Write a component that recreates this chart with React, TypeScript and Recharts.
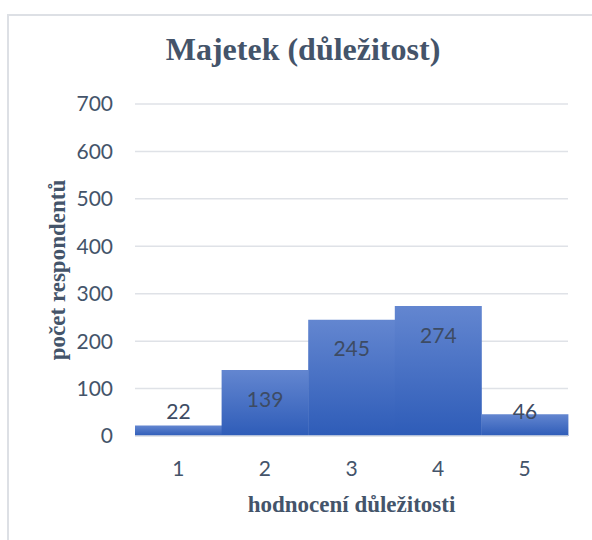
import React from 'react';
import { BarChart, Bar, XAxis, YAxis, CartesianGrid, LabelList } from 'recharts';

// ratings and how many respondents picked each one
const ratings = ['1', '2', '3', '4', '5'];
const respondents = [22, 139, 245, 274, 46];
const yTicks = [0, 100, 200, 300, 400, 500, 600, 700];

const chartTitle = 'Majetek (důležitost)';
const xTitle = 'hodnocení důležitosti';
const yTitle = 'počet respondentů';

const data = ratings.map((r, i) => ({ rating: r, count: respondents[i] }));

const textColor = '#44546a';
const tickFont = 'Lato, "Open Sans", sans-serif';
const serif = '"Liberation Serif", "Times New Roman", serif';

// inside-end label, but kept above the baseline when the bar is too short
const renderValue = (props: any) => {
  const { x, y, width, height, value } = props;
  const bottom = y + height;
  const cy = Math.min(y + 29, bottom - 24);
  return (
    <text
      x={x + width / 2}
      y={cy}
      dy="0.355em"
      textAnchor="middle"
      fontFamily={tickFont}
      fontSize={21}
      fill="#3d4b63"
    >
      {value}
    </text>
  );
};

const App: React.FC = () => {
  return (
    <div style={{ position: 'absolute', left: 0, top: 0, width: 592, height: 540, background: '#fff', overflow: 'hidden' }}>
      <div
        style={{
          position: 'absolute',
          left: 7,
          top: 14,
          width: 620,
          height: 560,
          border: '2px solid #dde0e5',
        }}
      />
      <div
        style={{
          position: 'absolute',
          left: 0,
          top: 30,
          width: 606,
          textAlign: 'center',
          fontFamily: serif,
          fontWeight: 'bold',
          fontSize: 32,
          lineHeight: '38px',
          color: textColor,
        }}
      >
        {chartTitle}
      </div>
      <div style={{ position: 'absolute', left: 0, top: 0 }}>
        <BarChart
          width={592}
          height={540}
          data={data}
          barCategoryGap={0}
          margin={{ top: 104, right: 24, bottom: 24, left: 75 }}
        >
          <defs>
            <linearGradient id="barFill" x1="0" y1="0" x2="0" y2="1">
              <stop offset="0%" stopColor="#6386d0" />
              <stop offset="100%" stopColor="#2e5cb8" />
            </linearGradient>
          </defs>
          <CartesianGrid vertical={false} stroke="#dfe2e7" strokeWidth={1.5} />
          <XAxis
            dataKey="rating"
            height={80}
            axisLine={{ stroke: '#dfe2e7', strokeWidth: 1.5 }}
            tickLine={false}
            tickMargin={19}
            tick={{ fontSize: 21, fill: textColor, fontFamily: tickFont }}
            label={{
              content: (p: any) => {
                const vb = p.viewBox;
                return (
                  <text
                    x={vb.x + vb.width / 2}
                    y={vb.y + 76}
                    textAnchor="middle"
                    fontFamily={serif}
                    fontWeight="bold"
                    fontSize={23}
                    fill={textColor}
                  >
                    {xTitle}
                  </text>
                );
              },
            }}
          />
          <YAxis
            width={60}
            domain={[0, 700]}
            ticks={yTicks}
            axisLine={false}
            tickLine={false}
            tickMargin={16}
            tick={{ fontSize: 21, fill: textColor, fontFamily: tickFont }}
            label={{
              content: (p: any) => {
                const vb = p.viewBox;
                const cx = vb.x - 10;
                const cy = vb.y + vb.height / 2;
                return (
                  <text
                    x={cx}
                    y={cy}
                    transform={`rotate(-90, ${cx}, ${cy})`}
                    textAnchor="middle"
                    fontFamily={serif}
                    fontWeight="bold"
                    fontSize={23}
                    fill={textColor}
                  >
                    {yTitle}
                  </text>
                );
              },
            }}
          />
          <Bar dataKey="count" fill="url(#barFill)" isAnimationActive={false}>
            <LabelList dataKey="count" content={renderValue} />
          </Bar>
        </BarChart>
      </div>
    </div>
  );
};

export default App;
